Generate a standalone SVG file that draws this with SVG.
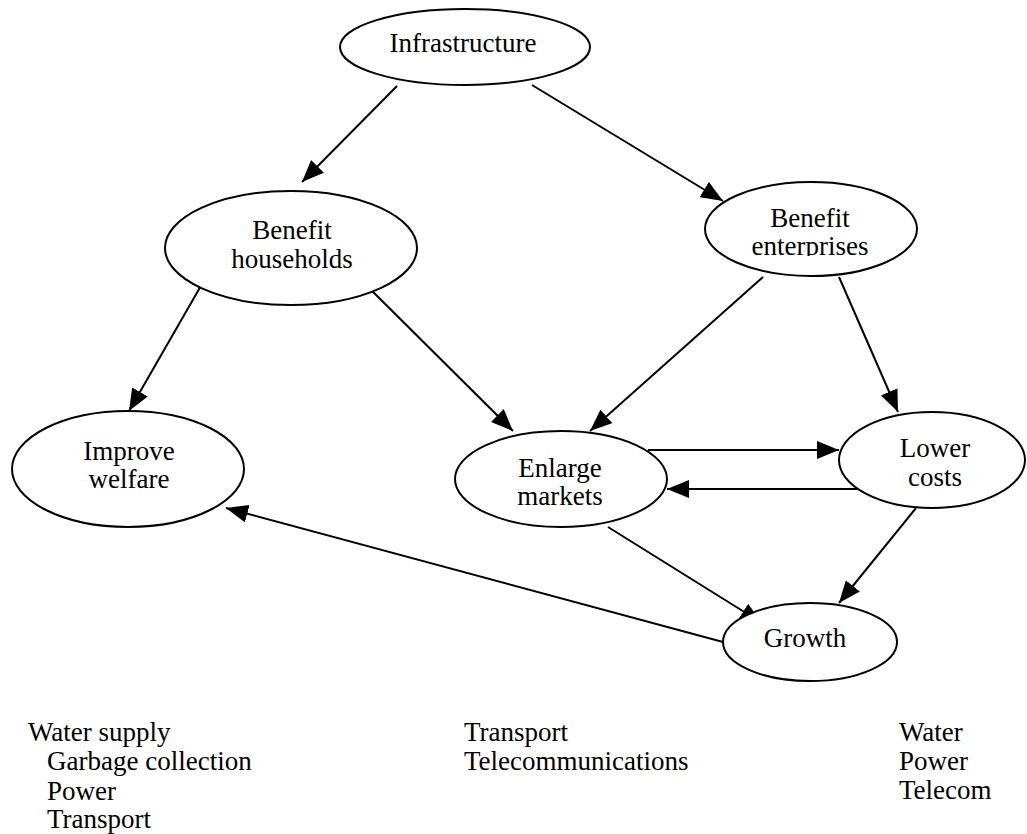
<svg xmlns="http://www.w3.org/2000/svg" width="1027" height="834" viewBox="0 0 1027 834" font-family="'Liberation Serif', 'Times New Roman', Times, 'DejaVu Serif', serif">
<style>
.node ellipse{fill:#fff;stroke:#000;stroke-width:2}
text{font-size:27px;fill:#000}
.c{text-anchor:middle}
#connectors line{stroke:#000;stroke-width:2;marker-end:url(#ah)}
</style>
<defs>
<marker id="ah" markerUnits="userSpaceOnUse" markerWidth="22" markerHeight="18" refX="22" refY="9" orient="auto">
<path d="M0,0 L22,9 L0,18 z" fill="#000"/>
</marker>
<clipPath id="entclip"><rect x="700" y="150" width="230" height="106"/></clipPath>
</defs>
<rect width="1027" height="834" fill="#fff"/>
<g id="connectors">
<line x1="397" y1="86" x2="302" y2="182"/>
<line x1="532" y1="85" x2="723" y2="201"/>
<line x1="206" y1="277" x2="129" y2="411"/>
<line x1="358" y1="277" x2="513" y2="431"/>
<line x1="763" y1="277" x2="590" y2="431"/>
<line x1="839" y1="277" x2="898" y2="412"/>
<line x1="648" y1="450" x2="839" y2="450"/>
<line x1="858" y1="489" x2="667" y2="489"/>
<line x1="608" y1="527" x2="762" y2="623"/>
<line x1="916" y1="508" x2="839" y2="603"/>
<line x1="723" y1="642" x2="226" y2="508"/>
</g>
<g id="infrastructure" class="node">
<ellipse cx="465" cy="47" rx="125" ry="38"/>
<text class="c" x="463" y="52">Infrastructure</text>
</g>
<g id="benefit-households" class="node">
<ellipse cx="291" cy="248" rx="126" ry="57"/>
<text class="c" x="292" y="239">Benefit</text>
<text class="c" x="292" y="268">households</text>
</g>
<g id="benefit-enterprises" class="node">
<ellipse cx="811" cy="229" rx="106" ry="47"/>
<text class="c" x="810" y="227">Benefit</text>
<text class="c" x="810" y="255" clip-path="url(#entclip)">enterprises</text>
</g>
<g id="improve-welfare" class="node">
<ellipse cx="128" cy="469" rx="116" ry="58"/>
<text class="c" x="129" y="460">Improve</text>
<text class="c" x="129" y="488">welfare</text>
</g>
<g id="enlarge-markets" class="node">
<ellipse cx="561" cy="479" rx="106" ry="48"/>
<text class="c" x="560" y="477">Enlarge</text>
<text class="c" x="560" y="505">markets</text>
</g>
<g id="lower-costs" class="node">
<ellipse cx="932" cy="460" rx="93" ry="48"/>
<text class="c" x="935" y="457">Lower</text>
<text class="c" x="935" y="486">costs</text>
</g>
<g id="growth" class="node">
<ellipse cx="810" cy="642" rx="87" ry="39"/>
<text class="c" x="805" y="647">Growth</text>
</g>
<g id="lists">
<text x="28" y="741">Water supply</text>
<text x="47" y="770">Garbage collection</text>
<text x="47" y="800">Power</text>
<text x="47" y="828">Transport</text>
<text x="464" y="741">Transport</text>
<text x="464" y="770">Telecommunications</text>
<text x="899" y="741">Water</text>
<text x="899" y="770">Power</text>
<text x="899" y="799">Telecom</text>
</g>
</svg>
